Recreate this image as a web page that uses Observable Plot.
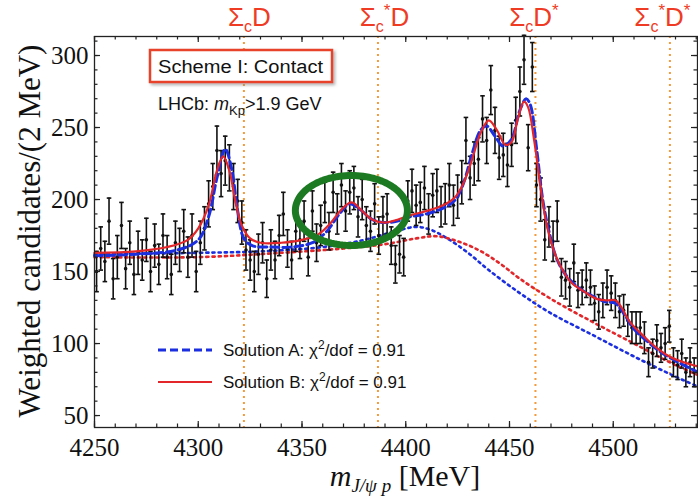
<!DOCTYPE html>
<html><head><meta charset="utf-8">
<script src="https://cdn.jsdelivr.net/npm/d3@7"></script>
<script src="https://cdn.jsdelivr.net/npm/@observablehq/plot@0.6"></script>
<style>body{margin:0;background:#fff;} svg{display:block}</style>
</head><body><div id="chart"></div>
<script>
// ---------- data ----------
const binStart = 4251, binWidth = 2;
const counts = [
 150,166,157,185,145,160,182,152,170,148,
 163,158,172,150,168,155,175,160,148,170,
 165,178,160,175,150,170,180,197,209,234,
 218,227,222,209,199,184,165,158,150,162,
 170,145,165,158,175,190,166,158,178,172,
 185,160,192,170,182,198,178,205,190,210,
 192,205,208,188,200,182,178,197,175,188,
 190,168,155,162,160,199,206,196,198,208,
 190,203,206,195,197,210,196,202,212,241,
 215,225,228,256,241,276,248,229,231,224,
 238,255,275,297,236,292,210,200,172,181,
 171,185,146,144,139,156,137,139,144,139,
 128,122,130,139,135,130,122,123,116,111,
 111,111,104,87,93,102,97,100,112,87,
 85,93,80,87,80];
const errors = [
 14,15,14,16,14,15,16,14,15,14,
 15,14,15,14,15,14,15,15,14,15,
 15,15,14,15,14,15,15,16,16,17,
 16,17,16,16,15,15,14,14,14,14,
 14,13,14,13,14,15,13,13,14,13,
 14,13,14,13,14,14,13,14,14,15,
 14,15,15,14,14,13,14,14,13,14,
 14,13,13,13,13,14,15,14,14,15,
 14,15,15,14,14,15,14,15,15,16,
 15,15,15,16,16,17,16,15,15,15,
 15,16,17,17,16,17,15,15,14,14,
 14,14,13,13,13,13,12,12,12,12,
 12,12,12,12,12,12,11,11,11,11,
 11,11,11,10,10,11,10,11,11,10,
 10,10,10,10,10];

// Solution B (red solid) knots
const fitBx = [4250,4270,4285,4295,4300,4305,4309,4312,4315,4318,4321,4325,4330,4340,4350,4358,4364,4369,4374,4379,4384,4390,4396,4402,4410,4418,4424,4428,4432,4436,4440,4444,4448,4451,4454,4457,4459,4462,4465,4468,4472,4476,4480,4486,4492,4497,4501,4504,4508,4514,4520,4527,4534,4541];
const fitBy = [163,164,167,172,180,196,220,230,220,198,182,173,170,170,172,176,184,193,198,192,186,184,186,189,192,196,202,212,228,246,255,248,238,240,256,268,264,240,208,182,162,150,142,136,131,130,130,125,115,106,98,91,87,84];
// Solution A (blue dashed) knots
const fitAx = [4250,4270,4290,4300,4305,4309,4313,4316,4319,4322,4326,4335,4345,4355,4362,4368,4373,4378,4384,4390,4396,4402,4410,4418,4424,4428,4432,4436,4439,4443,4447,4451,4455,4458,4460,4463,4466,4469,4473,4478,4484,4490,4496,4501,4505,4510,4516,4522,4530,4541];
const fitAy = [161,162,165,172,188,215,235,222,192,173,168,167,167,170,178,190,197,193,186,184,185,188,190,194,200,212,232,248,251,244,237,242,262,270,266,236,200,178,158,146,138,133,129,128,121,110,102,95,88,80];
// backgrounds (dotted)
const bkgAx = [4250,4300,4330,4360,4380,4395,4405,4412,4420,4430,4440,4455,4470,4490,4510,4530,4541];
const bkgAy = [162,163,164,167,172,178,181,179,173,163,151,135,121,106,91,77,70];
const bkgBx = [4250,4300,4340,4370,4390,4405,4415,4425,4435,4445,4455,4470,4490,4510,4530,4541];
const bkgBy = [160,160,163,166,169,173,174.5,171,165,156,145,131,115,100,85,78];

const thresholds = [4322, 4386.6, 4462.5, 4527.3];
const thresholdNames = [["Σ","c","","D",""],["Σ","c","*","D",""],["Σ","c","","D","*"],["Σ","c","*","D","*"]];

const xTicksMajor = [4250,4300,4350,4400,4450,4500];
const yTicksMajor = [50,100,150,200,250,300];
const xTicksMinor = d3.range(4250, 4541, 10);
const yTicksMinor = d3.range(50, 311, 10);

const legendLabels = ["Solution A: χ", "Solution B: χ"];
const chi2 = ["0.91","0.91"];

const circleCenter = [4373.8, 192.4], circleR = [27, 24.3];

// ---------- chart ----------
const xDom = [4250, 4540.6], yDom = [41.7, 313.2];
const W = 698, H = 496, mL = 94, mR = 1, mT = 36, mB = 69;
const pxX = (xDom[1]-xDom[0])/(W-mL-mR), pxY = (yDom[1]-yDom[0])/(H-mT-mB);

const data = counts.map((v,i)=>({x: binStart + i*binWidth, y: v, e: errors[i]}));
const line = (xs, ys) => xs.map((x,i)=>({x, y: ys[i]}));
const ellipse = d3.range(0, 2*Math.PI + 0.01, Math.PI/60).map(t => ({x: circleCenter[0] + circleR[0]*Math.cos(t), y: circleCenter[1] + circleR[1]*Math.sin(t)}));

const RED = "#e3262a", BLUE = "#1b2fe0", ORANGE = "#f39a3a", GREEN = "#1c7a22";
const serif = "'Liberation Serif','Times New Roman',serif";
const sans = "'Liberation Sans',Arial,Helvetica,sans-serif";

const plot = Plot.plot({
  width: W, height: H, marginLeft: mL, marginRight: mR, marginTop: mT, marginBottom: mB,
  x: {domain: xDom}, y: {domain: yDom},
  style: {background: "#fff", overflow: "visible"},
  marks: [
    Plot.ruleX(thresholds, {stroke: ORANGE, strokeWidth: 2, strokeDasharray: "2,4"}),
    Plot.line(line(bkgAx, bkgAy), {x:"x", y:"y", curve:"catmull-rom", stroke: BLUE, strokeWidth: 2.6, strokeDasharray: "2.2,4"}),
    Plot.line(line(bkgBx, bkgBy), {x:"x", y:"y", curve:"catmull-rom", stroke: RED, strokeWidth: 2.6, strokeDasharray: "2.2,4"}),
    Plot.ruleX(data, {x: "x", y1: d => d.y - d.e, y2: d => d.y + d.e, stroke: "#111", strokeWidth: 1.6}),
    Plot.link(data, {x1: d => d.x - 1.1, x2: d => d.x + 1.1, y1: d => d.y + d.e, y2: d => d.y + d.e, stroke: "#111", strokeWidth: 1.6}),
    Plot.link(data, {x1: d => d.x - 1.1, x2: d => d.x + 1.1, y1: d => d.y - d.e, y2: d => d.y - d.e, stroke: "#111", strokeWidth: 1.6}),
    Plot.dot(data, {x: "x", y: "y", r: 1.8, fill: "#111", stroke: null}),
    Plot.line(line(fitAx, fitAy), {x:"x", y:"y", curve:"catmull-rom", stroke: BLUE, strokeWidth: 3, strokeDasharray: "8,4"}),
    Plot.line(line(fitBx, fitBy), {x:"x", y:"y", curve:"catmull-rom", stroke: RED, strokeWidth: 2.2}),
    Plot.line(ellipse, {x:"x", y:"y", stroke: GREEN, strokeWidth: 7, curve: "linear-closed"}),
    Plot.ruleX(xTicksMinor, {y1: yDom[0], y2: yDom[0] + 3.5*pxY, stroke: "#222", strokeWidth: 1.2}),
    Plot.ruleX(xTicksMinor, {y1: yDom[1], y2: yDom[1] - 3.5*pxY, stroke: "#222", strokeWidth: 1.2}),
    Plot.ruleX(xTicksMajor, {y1: yDom[0], y2: yDom[0] + 6*pxY, stroke: "#222", strokeWidth: 1.2}),
    Plot.ruleX(xTicksMajor, {y1: yDom[1], y2: yDom[1] - 6*pxY, stroke: "#222", strokeWidth: 1.2}),
    Plot.ruleY(yTicksMinor, {x1: xDom[0], x2: xDom[0] + 3.5*pxX, stroke: "#222", strokeWidth: 1.2}),
    Plot.ruleY(yTicksMinor, {x1: xDom[1], x2: xDom[1] - 3.5*pxX, stroke: "#222", strokeWidth: 1.2}),
    Plot.ruleY(yTicksMajor, {x1: xDom[0], x2: xDom[0] + 6*pxX, stroke: "#222", strokeWidth: 1.2}),
    Plot.ruleY(yTicksMajor, {x1: xDom[1], x2: xDom[1] - 6*pxX, stroke: "#222", strokeWidth: 1.2}),
    Plot.frame({stroke: "#222", strokeWidth: 1.3}),
    Plot.axisX(xTicksMajor, {tickSize: 0, tickPadding: 11, fontSize: 25, fontFamily: serif, fill: "#111", label: null, tickFormat: d => String(d)}),
    Plot.axisY(yTicksMajor, {tickSize: 0, tickPadding: 6, fontSize: 25, fontFamily: serif, fill: "#111", label: null, tickFormat: d => String(d)})
  ]
});

const svg = d3.select(plot);
const sx = plot.scale("x");

// threshold labels
const labelDx = [6, 7, -1, -7];
thresholdNames.forEach((p, i) => {
  const t = svg.append("text").attr("x", sx.apply(thresholds[i]) + labelDx[i]).attr("y", 26)
    .attr("text-anchor", "middle").attr("fill", "#ef3b24").attr("font-family", sans).attr("font-size", 26);
  t.append("tspan").text(p[0]);
  t.append("tspan").attr("font-size", 16).attr("dy", 6).text(p[1]);
  if (p[2]) { t.append("tspan").attr("font-size", 17).attr("dy", -16).text(p[2]); t.append("tspan").attr("dy", 10).text(p[3]); }
  else t.append("tspan").attr("dy", -6).text(p[3]);
  if (p[4]) t.append("tspan").attr("font-size", 17).attr("dy", -10).text(p[4]);
});

// Scheme box
const defs = svg.append("defs");
const f = defs.append("filter").attr("id", "sh").attr("x", "-10%").attr("y", "-20%").attr("width", "130%").attr("height", "160%");
f.append("feDropShadow").attr("dx", 2).attr("dy", 2).attr("stdDeviation", 1.8).attr("flood-color", "#777").attr("flood-opacity", 0.55);
svg.append("rect").attr("x", 150).attr("y", 50).attr("width", 182).attr("height", 32)
  .attr("fill", "#fff").attr("stroke", "#e8432a").attr("stroke-width", 2.5).attr("filter", "url(#sh)");
svg.append("text").attr("x", 158).attr("y", 72.5).attr("text-anchor", "start").attr("font-family", sans).attr("font-size", 18)
  .attr("fill", "#111").attr("textLength", 165).attr("lengthAdjust", "spacingAndGlyphs").text("Scheme I: Contact");
const lt = svg.append("text").attr("x", 158).attr("y", 110).attr("text-anchor", "start").attr("font-family", sans).attr("font-size", 18).attr("fill", "#111");
lt.append("tspan").text("LHCb: ");
lt.append("tspan").attr("font-style", "italic").text("m");
lt.append("tspan").attr("font-size", 13).attr("dy", 5).text("Kp");
lt.append("tspan").attr("dy", -5).text(">1.9 GeV");

// legend
[[BLUE, "8,4", 3, 350], [RED, null, 2.2, 382]].forEach(([c, da, w, y], i) => {
  const l = svg.append("line").attr("x1", 158).attr("x2", 212).attr("y1", y).attr("y2", y)
    .attr("stroke", c).attr("stroke-width", w);
  if (da) l.attr("stroke-dasharray", da);
  const t = svg.append("text").attr("x", 223).attr("y", y + 6).attr("text-anchor", "start").attr("font-family", sans).attr("font-size", 17).attr("fill", "#111");
  t.append("tspan").text(legendLabels[i]);
  t.append("tspan").attr("font-size", 12).attr("dy", -7).text("2");
  t.append("tspan").attr("dy", 7).text("/dof = " + chi2[i]);
});

// axis titles
svg.append("text").attr("transform", "translate(40,231) rotate(-90)").attr("text-anchor", "middle")
  .attr("font-family", serif).attr("font-size", 31).attr("fill", "#111").text("Weighted candidates/(2 MeV)");
const xt = svg.append("text").attr("x", 405).attr("y", 486).attr("text-anchor", "middle")
  .attr("font-family", serif).attr("font-size", 30).attr("fill", "#111");
xt.append("tspan").attr("font-style", "italic").text("m");
xt.append("tspan").attr("font-style", "italic").attr("font-size", 19).attr("dy", 6).text("J/ψ p");
xt.append("tspan").attr("dy", -6).text(" [MeV]");

document.getElementById("chart").appendChild(plot);
</script>
</body></html>
